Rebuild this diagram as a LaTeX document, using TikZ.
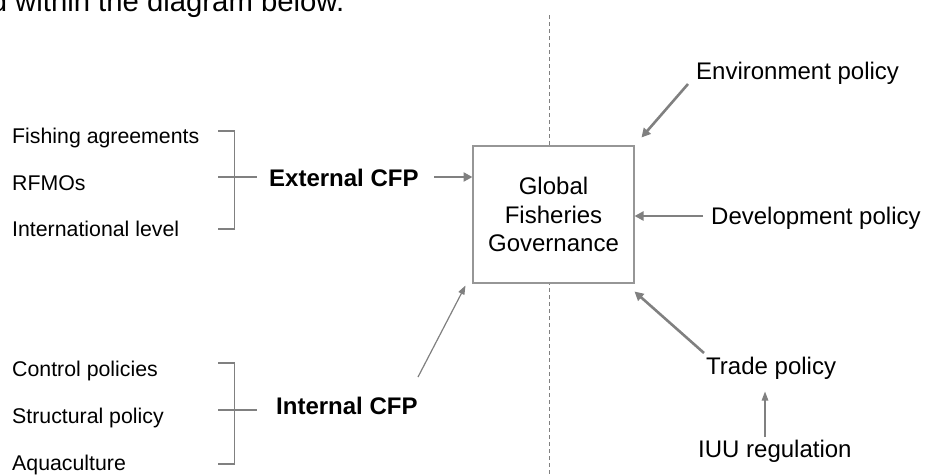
\documentclass[tikz,border=0pt]{standalone}
\usepackage{fontspec}
\setmainfont{Liberation Sans}
\usetikzlibrary{arrows.meta}
\definecolor{linegray}{RGB}{128,128,128}
\definecolor{boxgray}{RGB}{150,150,150}
\begin{document}
\begin{tikzpicture}[x=1pt,y=-1pt,
  item/.style={anchor=base west,inner sep=0pt,font=\fontsize{21.3}{24}\selectfont},
  cfp/.style={anchor=base west,inner sep=0pt,font=\fontsize{24}{28}\selectfont\bfseries},
  policy/.style={anchor=base west,inner sep=0pt,font=\fontsize{24}{28}\selectfont},
  gbox/.style={draw=boxgray,fill=white,line width=1.2pt,minimum width=161pt,minimum height=137pt,align=center,inner sep=0pt,font=\fontsize{24}{28.3}\selectfont},
  brk/.style={draw=linegray,line width=1.1pt},
  thickarr/.style={draw=linegray,line width=2.6pt,-{Triangle[length=9pt,width=9pt]}},
  thinarr/.style={draw=linegray,line width=1.2pt,-{Triangle[length=9pt,width=6.5pt]}},
  divider/.style={draw=linegray,line width=1pt,dash pattern=on 4pt off 3pt}]
\useasboundingbox (0,0) rectangle (925,475);
% cut-off heading line
\node[anchor=base west,inner sep=0pt,font=\fontsize{29.3}{34}\selectfont] (head) at (-9.4,11.7) {d within the diagram below.};
% divider
\coordinate (divtop) at (549.5,15);
\coordinate (divbot) at (549.5,475);
\draw[divider] (divtop) -- (divbot);
% central box
\node[gbox] (gfg) at (553.5,214.5) {Global\\Fisheries\\Governance};
% left lists
\node[item] (fa) at (12,143.5) {Fishing agreements};
\node[item] (rf) at (12,190) {RFMOs};
\node[item] (il) at (12,236.5) {International level};
\node[item] (cp) at (12,376.7) {Control policies};
\node[item] (sp) at (12,423.3) {Structural policy};
\node[item] (aq) at (12,470.5) {Aquaculture};
% brackets
\draw[brk] (218,131) -- (234.5,131) -- (234.5,229) -- (218,229);
\draw[brk] (218,177) -- (257,177);
\draw[brk] (218,363) -- (234.5,363) -- (234.5,464) -- (218,464);
\draw[brk] (218,410) -- (257,410);
% CFP labels
\node[cfp] (ext) at (269,186) {External CFP};
\node[cfp] (int) at (276,414) {Internal CFP};
% policy labels
\node[policy] (env) at (696,79) {Environment policy};
\node[policy] (dev) at (711,224) {Development policy};
\node[policy] (trade) at (706,374) {Trade policy};
\node[policy] (iuu) at (698,457.3) {IUU regulation};
% arrow end points
\coordinate (extS) at (434,177);
\coordinate (extE) at (472.5,177);
\coordinate (intS) at (418,377);
\coordinate (intE) at (465.5,285.5);
\coordinate (envS) at (688,84);
\coordinate (envE) at (641.5,137.5);
\coordinate (devS) at (703,216);
\coordinate (devE) at (634.5,216);
\coordinate (trS) at (704,353);
\coordinate (trE) at (634.5,291.5);
\coordinate (iuuS) at (765,437);
\coordinate (iuuE) at (765,391.5);
\draw[thickarr] (extS) -- (extE);
\draw[thinarr] (intS) -- (intE);
\draw[thickarr] (envS) -- (envE);
\draw[thickarr] (devS) -- (devE);
\draw[thickarr] (trS) -- (trE);
\draw[thinarr] (iuuS) -- (iuuE);
\end{tikzpicture}
\end{document}
